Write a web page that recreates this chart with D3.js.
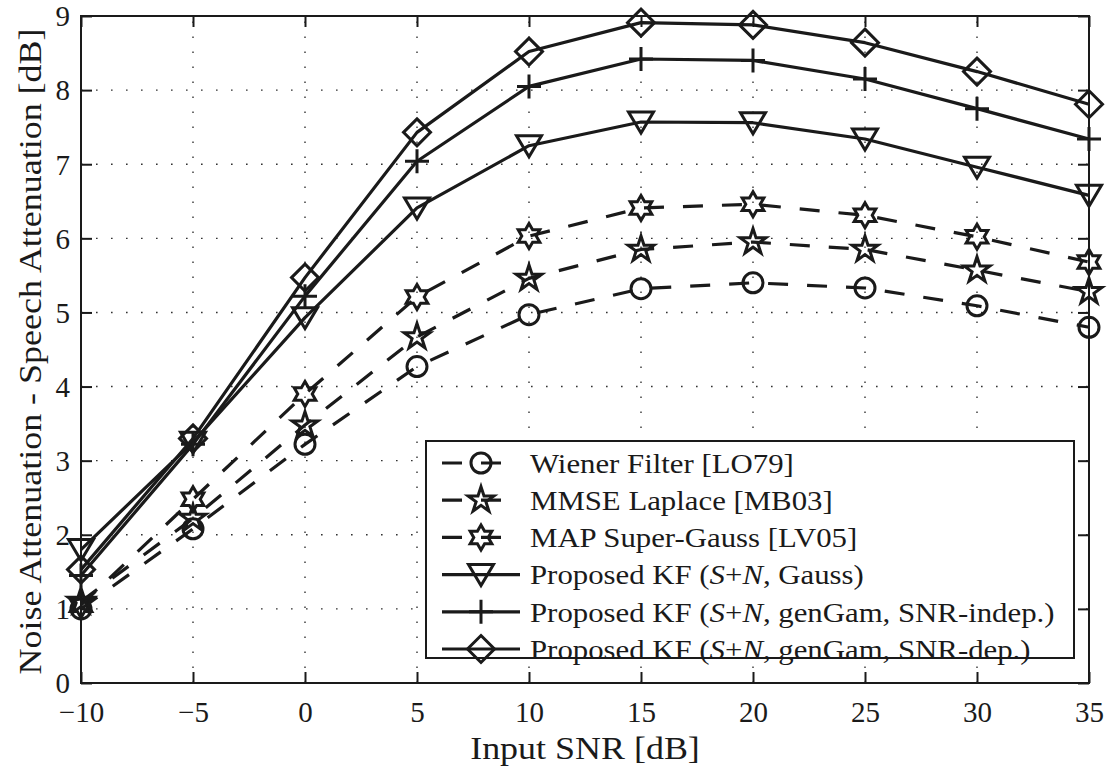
<!DOCTYPE html>
<html>
<head>
<meta charset="utf-8">
<script src="https://cdn.jsdelivr.net/npm/d3@7/dist/d3.min.js"></script>
<style>
  html, body { margin: 0; padding: 0; background: #fff; }
  svg { display: block; }
</style>
</head>
<body>
<svg id="chart" width="1113" height="771"></svg>
<script>
// Input SNR values (dB) at which each method was evaluated
const snr = [-10, -5, 0, 5, 10, 15, 20, 25, 30, 35];

// Noise attenuation minus speech attenuation (dB) per method
const wiener     = [1.00, 2.08, 3.22, 4.27, 4.97, 5.32, 5.40, 5.33, 5.09, 4.80];
const laplace    = [1.10, 2.22, 3.48, 4.67, 5.46, 5.85, 5.95, 5.85, 5.57, 5.28];
const superGauss = [1.05, 2.48, 3.90, 5.21, 6.03, 6.41, 6.46, 6.31, 6.02, 5.68];
const kfGauss    = [1.80, 3.25, 4.93, 6.41, 7.25, 7.57, 7.56, 7.34, 6.96, 6.58];
const kfIndep    = [1.45, 3.22, 5.22, 7.04, 8.05, 8.42, 8.40, 8.15, 7.75, 7.34];
const kfDep      = [1.53, 3.30, 5.47, 7.43, 8.52, 8.91, 8.88, 8.64, 8.25, 7.81];

// Legend labels: [text, italic?] runs
const labelWiener  = [["Wiener Filter [LO79]", false]];
const labelLaplace = [["MMSE Laplace [MB03]", false]];
const labelSG      = [["MAP Super-Gauss [LV05]", false]];
const labelKFG     = [["Proposed KF (", false], ["S", true], ["+", false], ["N", true], [", Gauss)", false]];
const labelKFI     = [["Proposed KF (", false], ["S", true], ["+", false], ["N", true], [", genGam, SNR-indep.)", false]];
const labelKFD     = [["Proposed KF (", false], ["S", true], ["+", false], ["N", true], [", genGam, SNR-dep.)", false]];

const xTicks = [-10, -5, 0, 5, 10, 15, 20, 25, 30, 35];
const yTicks = [0, 1, 2, 3, 4, 5, 6, 7, 8, 9];
const xDomain = [-10, 35];
const yDomain = [0, 9];

(function draw() {
  const ink = "#1a1a1a";
  const serif = "Liberation Serif";
  const svg = d3.select("#chart");

  const pL = 81, pR = 1089, pT = 16, pB = 683;
  const x = d3.scaleLinear().domain(xDomain).range([pL, pR]);
  const y = d3.scaleLinear().domain(yDomain).range([pB, pT]);

  // dotted grid
  const grid = svg.append("g")
    .attr("stroke", "#333").attr("stroke-width", 1.4)
    .attr("stroke-dasharray", "1.6 13.4").attr("fill", "none");
  xTicks.slice(1, -1).forEach(t => {
    grid.append("line").attr("x1", x(t)).attr("x2", x(t)).attr("y1", pB).attr("y2", pT);
  });
  yTicks.slice(1, -1).forEach(t => {
    grid.append("line").attr("x1", pL).attr("x2", pR).attr("y1", y(t)).attr("y2", y(t));
  });

  // axes with inward ticks on all four sides
  const tickLen = 11;
  const fmt = d => d < 0 ? "\u2212" + Math.abs(d) : String(d);

  const axB = d3.axisBottom(x).tickValues(xTicks).tickSizeInner(-tickLen).tickSizeOuter(0).tickPadding(18).tickFormat(fmt);
  const axT = d3.axisTop(x).tickValues(xTicks).tickSizeInner(-tickLen).tickSizeOuter(0).tickFormat("");
  const axL = d3.axisLeft(y).tickValues(yTicks).tickSizeInner(-tickLen).tickSizeOuter(0).tickPadding(11).tickFormat(fmt);
  const axR = d3.axisRight(y).tickValues(yTicks).tickSizeInner(-tickLen).tickSizeOuter(0).tickFormat("");

  function styleAxis(g) {
    g.attr("font-family", serif).attr("font-size", 29);
    g.select(".domain").remove();
    g.selectAll(".tick line").attr("stroke", ink).attr("stroke-width", 2);
    g.selectAll(".tick text").attr("fill", ink);
  }
  svg.append("g").attr("transform", `translate(0,${pB})`).call(axB).call(styleAxis)
    .selectAll(".tick text").attr("dy", "0.72em");
  svg.append("g").attr("transform", `translate(0,${pT})`).call(axT).call(styleAxis);
  svg.append("g").attr("transform", `translate(${pL},0)`).call(axL).call(styleAxis)
    .selectAll(".tick text").attr("dy", "0.34em");
  svg.append("g").attr("transform", `translate(${pR},0)`).call(axR).call(styleAxis);

  // frame
  svg.append("rect").attr("x", pL).attr("y", pT)
    .attr("width", pR - pL).attr("height", pB - pT)
    .attr("fill", "none").attr("stroke", ink).attr("stroke-width", 2);

  // axis titles (widened horizontally to the proportions of the original typeface)
  svg.append("text")
    .attr("transform", `translate(${(pL + pR) / 2},759) scale(1.16,1)`)
    .attr("text-anchor", "middle").attr("font-family", serif)
    .attr("font-size", 31).attr("fill", ink)
    .text("Input SNR [dB]");
  svg.append("text")
    .attr("transform", `translate(41,${(pT + pB) / 2 + 2}) rotate(-90) scale(1.16,1)`)
    .attr("text-anchor", "middle").attr("font-family", serif)
    .attr("font-size", 31).attr("fill", ink)
    .text("Noise Attenuation - Speech Attenuation [dB]");

  // marker shapes
  function starPath(n, R, r) {
    const pts = [];
    for (let i = 0; i < 2 * n; i++) {
      const rad = i % 2 === 0 ? R : r;
      const a = -Math.PI / 2 + i * Math.PI / n;
      pts.push([rad * Math.cos(a), rad * Math.sin(a)]);
    }
    return "M" + pts.map(p => p[0].toFixed(2) + "," + p[1].toFixed(2)).join("L") + "Z";
  }
  const markerPaths = {
    circle:    "M10,0A10,10 0 1,1 -10,0A10,10 0 1,1 10,0Z",
    pentagram: starPath(5, 13.5, 13.5 * 0.382),
    hexagram:  starPath(6, 12.5, 12.5 / Math.sqrt(3)),
    triangle:  "M-12.5,-10L12.5,-10L0,11Z",
    plus:      "M-12,0L12,0M0,-12L0,12",
    diamond:   "M0,-13.5L13.5,0L0,13.5L-13.5,0Z"
  };

  const series = [
    { values: wiener,     marker: "circle",    dashed: true,  label: labelWiener },
    { values: laplace,    marker: "pentagram", dashed: true,  label: labelLaplace },
    { values: superGauss, marker: "hexagram",  dashed: true,  label: labelSG },
    { values: kfGauss,    marker: "triangle",  dashed: false, label: labelKFG },
    { values: kfIndep,    marker: "plus",      dashed: false, label: labelKFI },
    { values: kfDep,      marker: "diamond",   dashed: false, label: labelKFD }
  ];

  const dash = "20 19";
  const line = d3.line().x((d, i) => x(snr[i])).y(d => y(d));

  const plot = svg.append("g");
  series.forEach(s => {
    plot.append("path").attr("d", line(s.values))
      .attr("fill", "none").attr("stroke", ink).attr("stroke-width", 3.2)
      .attr("stroke-linejoin", "round")
      .attr("stroke-dasharray", s.dashed ? dash : null);
    plot.append("g").selectAll("path").data(s.values).join("path")
      .attr("transform", (d, i) => `translate(${x(snr[i])},${y(d)})`)
      .attr("d", markerPaths[s.marker])
      .attr("fill", "none").attr("stroke", ink).attr("stroke-width", 3)
      .attr("stroke-linejoin", "miter");
  });

  // legend
  const lg = svg.append("g");
  lg.append("rect").attr("x", 426).attr("y", 441).attr("width", 648).attr("height", 217)
    .attr("fill", "#fff").attr("stroke", ink).attr("stroke-width", 2);
  const rowY0 = 463, rowStep = 37.2;
  series.forEach((s, i) => {
    const ry = rowY0 + i * rowStep;
    lg.append("line").attr("x1", 442).attr("x2", 520).attr("y1", ry).attr("y2", ry)
      .attr("stroke", ink).attr("stroke-width", 3.2)
      .attr("stroke-dasharray", s.dashed ? dash : null);
    lg.append("path").attr("transform", `translate(481,${ry})`)
      .attr("d", markerPaths[s.marker])
      .attr("fill", "none").attr("stroke", ink).attr("stroke-width", 3);
    const t = lg.append("text")
      .attr("transform", `translate(530,${ry}) scale(1.1,1)`)
      .attr("dy", "0.35em")
      .attr("font-family", serif).attr("font-size", 28).attr("fill", ink);
    s.label.forEach(([str, it]) => {
      t.append("tspan").attr("font-style", it ? "italic" : "normal").text(str);
    });
  });
})();
</script>
</body>
</html>
